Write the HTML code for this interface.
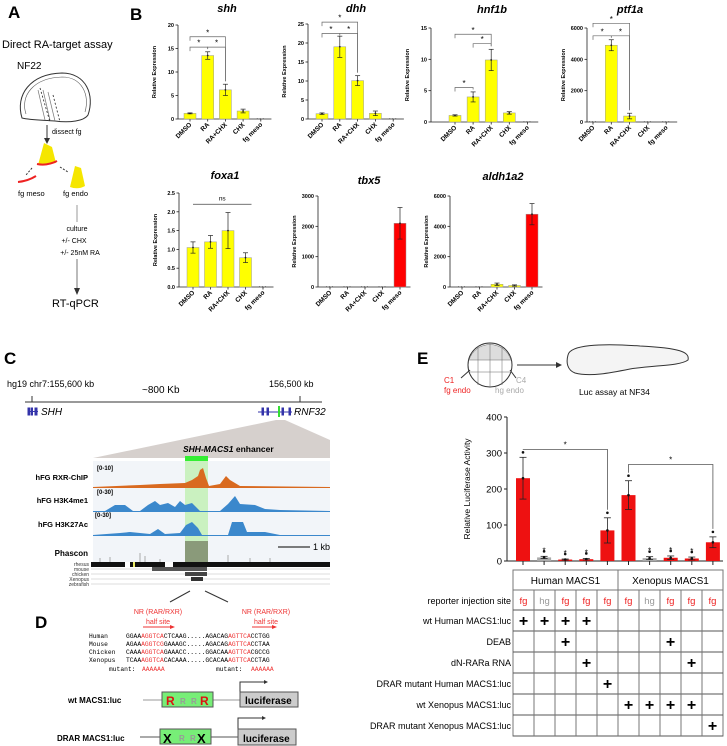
<!DOCTYPE html>
<html><head><meta charset="utf-8"><style>
body{margin:0;background:#fff;width:727px;height:746px;overflow:hidden}
svg{display:block;font-family:"Liberation Sans",Arial,sans-serif}
.mono{font-family:"Liberation Mono",monospace}
</style></head><body>
<svg id="fig" width="727" height="746" viewBox="0 0 727 746">
<!-- Panel A -->
<g>
<text x="8" y="18" font-size="17" font-weight="bold">A</text>
<text x="2" y="48" font-size="11">Direct RA-target assay</text>
<text x="17" y="69" font-size="10">NF22</text>
<path d="M22,118 C15,95 30,74 62,73 C86,73 95,95 88,115 C84,121 70,123 55,121 C40,120 30,120 22,118 Z" fill="#fff" stroke="#333" stroke-width="1"/>
<path d="M26,114 C20,96 33,78 62,77 C82,77 90,95 85,112" fill="none" stroke="#555" stroke-width="0.6"/>
<path d="M38,90 L45,120 M43,90 L50,120 M48,92 L55,121" stroke="#777" stroke-width="0.7" fill="#ccc"/>
<path d="M40,88 L50,122 M53,95 L60,122" stroke="#222" stroke-dasharray="2,2" stroke-width="0.8"/>
<line x1="47" y1="125" x2="47" y2="140" stroke="#333" stroke-width="1"/><path d="M44,138 L47,144 L50,138 Z" fill="#333"/>
<text x="52" y="134" font-size="7">dissect fg</text>
<path d="M38,165 L44,143 L52,147 L56,163 Z" fill="#f5e600"/>
<path d="M37,164 Q47,166 57,161" stroke="#e22" stroke-width="2" fill="none"/>
<path d="M32,168 L26,175" stroke="#333" stroke-dasharray="2,1.5"/><path d="M60,167 L68,172" stroke="#333" stroke-dasharray="2,1.5"/>
<path d="M18,182 Q28,181 36,176" stroke="#e22" stroke-width="2" fill="none"/>
<path d="M70,187 L75,166 L81,168 L85,186 Q78,190 70,187 Z" fill="#f5e600"/>
<text x="18" y="196" font-size="7.5">fg meso</text>
<text x="63" y="196" font-size="7.5">fg endo</text>
<line x1="77" y1="205" x2="77" y2="222" stroke="#999"/>
<text x="77" y="231" font-size="7" text-anchor="middle">culture</text>
<text x="74" y="243" font-size="7" text-anchor="middle">+/-  CHX</text>
<text x="80" y="255" font-size="7" text-anchor="middle">+/- 25nM RA</text>
<line x1="77" y1="259" x2="77" y2="290" stroke="#777"/><path d="M74,288 L77,295 L80,288 Z" fill="#333"/>
<text x="52" y="307" font-size="11">RT-qPCR</text>
</g>
<text x="130" y="20" font-size="17" font-weight="bold">B</text>
<g id="charts"></g>

<!-- Panel C -->
<g>
<text x="4" y="364" font-size="17" font-weight="bold">C</text>
<text x="7" y="387" font-size="9">hg19 chr7:155,600 kb</text>
<text x="142" y="393" font-size="10">~800 Kb</text>
<text x="269" y="387" font-size="9">156,500 kb</text>
<line x1="25" y1="402" x2="322" y2="402" stroke="#333"/>
<line x1="32" y1="396" x2="32" y2="402" stroke="#333"/><line x1="300" y1="396" x2="300" y2="402" stroke="#333"/>
<g fill="#33a" stroke="#33a"><rect x="28" y="408" width="1.5" height="7"/><rect x="31" y="408" width="1.5" height="7"/><rect x="35" y="408" width="2" height="7"/><line x1="28" y1="411.5" x2="38" y2="411.5"/></g>
<text x="41" y="415" font-size="10" font-style="italic">SHH</text>
<g stroke="#33a" fill="#33a"><line x1="258" y1="412" x2="292" y2="412"/><rect x="262" y="408" width="1.5" height="7"/><rect x="267" y="408" width="1.5" height="7"/><rect x="282" y="408" width="1.5" height="7"/><rect x="289" y="408" width="1.5" height="7"/></g>
<rect x="278" y="406" width="2" height="11" fill="#3d3"/>
<text x="294" y="415" font-size="10" font-style="italic">RNF32</text>
<path d="M276,420 L93,458 L330,458 L330,440 L285,420 Z" fill="#d6d0cd"/>
<text x="183" y="452" font-size="8.5" font-weight="bold"><tspan font-style="italic">SHH-MACS1</tspan> enhancer</text>
<rect x="185" y="456" width="23" height="5" fill="#3e3"/>
<rect x="93" y="461" width="237" height="102" fill="#f2f5f9"/>
<rect x="185" y="461" width="23" height="102" fill="#b9f0a8" opacity="0.7"/>
<text x="88" y="480" font-size="7.5" font-weight="bold" text-anchor="end">hFG RXR-ChIP</text>
<text x="97" y="470" font-size="6" font-weight="bold">[0-10]</text>
<path d="M93,487 L140,485 L160,484 L185,483 L192,480 L198,476 L200,470 L203,468 L206,478 L209,486 L220,484 L226,476 L230,480 L240,486 L330,487 L330,488 L93,488 Z" fill="#d96a20"/>
<text x="88" y="503" font-size="7.5" font-weight="bold" text-anchor="end">hFG H3K4me1</text>
<text x="97" y="494" font-size="6" font-weight="bold">[0-30]</text>
<path d="M93,511 L105,511 L115,505 L125,505 L133,511 L140,511 L148,505 L155,501 L160,505 L168,503 L175,507 L180,501 L185,505 L192,503 L200,511 L220,511 L228,504 L235,496 L240,504 L255,505 L265,509 L280,510 L330,511 L330,512 L93,512 Z" fill="#3b88cc"/>
<text x="88" y="527" font-size="7.5" font-weight="bold" text-anchor="end">hFG H3K27Ac</text>
<text x="95" y="517" font-size="6" font-weight="bold">[0-30]</text>
<path d="M93,535 L120,533 L130,532 L150,534 L158,529 L165,534 L180,533 L186,525 L192,522 L198,528 L202,535 L228,535 L232,522 L243,522 L247,532 L265,532 L280,535 L330,535 L330,536 L93,536 Z" fill="#3b88cc"/>
<text x="88" y="556" font-size="8" font-weight="bold" text-anchor="end">Phascon</text>
<rect x="185" y="541" width="23" height="21" fill="#8a9a7a"/>
<path d="M100,562 v-4 M110,562 v-5 M140,562 v-9 M145,562 v-6 M160,562 v-3 M228,562 v-7 M250,562 v-4 M270,562 v-4" stroke="#999" stroke-width="0.8"/>
<line x1="278" y1="547" x2="310" y2="547" stroke="#333" stroke-width="1.2"/>
<text x="313" y="550" font-size="9">1 kb</text>
<g font-size="5" text-anchor="end" fill="#333">
<text x="89" y="566">rhesus</text><text x="89" y="571">mouse</text><text x="89" y="576">chicken</text><text x="89" y="581">Xenopus</text><text x="89" y="586">zebrafish</text></g>
<rect x="91" y="562" width="239" height="5" fill="#111"/>
<rect x="125" y="562" width="5" height="5" fill="#fff"/><rect x="133" y="562" width="2" height="5" fill="#ee6"/><rect x="165" y="562" width="8" height="5" fill="#fff"/>
<g stroke="#bbb" stroke-width="0.5"><line x1="91" y1="569" x2="330" y2="569"/><line x1="91" y1="574" x2="330" y2="574"/><line x1="91" y1="579" x2="330" y2="579"/><line x1="91" y1="584" x2="330" y2="584"/></g>
<rect x="152" y="567" width="55" height="4" fill="#555"/><rect x="185" y="572" width="22" height="4" fill="#444"/><rect x="191" y="577" width="12" height="4" fill="#333"/>
<line x1="190" y1="591" x2="170" y2="602" stroke="#333"/><line x1="205" y1="591" x2="228" y2="602" stroke="#333"/>
</g>

<!-- Panel D -->
<g>
<text x="35" y="628" font-size="17" font-weight="bold">D</text>
<g fill="#e33" font-size="7" text-anchor="middle">
<text x="158" y="614">NR (RAR/RXR)</text><text x="158" y="624">half site</text>
<text x="266" y="614">NR (RAR/RXR)</text><text x="266" y="624">half site</text></g>
<line x1="143" y1="627" x2="172" y2="627" stroke="#e33"/><path d="M170,625 L175,627 L170,629Z" fill="#e33"/>
<line x1="252" y1="627" x2="274" y2="627" stroke="#e33"/><path d="M272,625 L277,627 L272,629Z" fill="#e33"/>
<g class="mono" font-size="6.3">
<text x="89" y="638">Human</text><text x="126" y="638">GGAA<tspan fill="#e33">AGGTCA</tspan>CTCAAG.....AGACAG<tspan fill="#e33">AGTTCA</tspan>CCTGG</text>
<text x="89" y="646">Mouse</text><text x="126" y="646">AGAA<tspan fill="#e33">AGGTCG</tspan>GAAAGC.....AGACAG<tspan fill="#e33">AGTTCA</tspan>CCTAA</text>
<text x="89" y="654">Chicken</text><text x="126" y="654">CAAA<tspan fill="#e33">AGGTCA</tspan>GAAACC.....GGACAA<tspan fill="#e33">AGTTCA</tspan>CGCCG</text>
<text x="89" y="662">Xenopus</text><text x="126" y="662">TCAA<tspan fill="#e33">AGGTCA</tspan>CACAAA.....GCACAA<tspan fill="#e33">AGTTCA</tspan>CCTAG</text>
<text x="109" y="671">mutant:</text><text x="142" y="671" fill="#e33">AAAAAA</text>
<text x="216" y="671">mutant:</text><text x="251" y="671" fill="#e33">AAAAAA</text></g>
<text x="68" y="703" font-size="8" font-weight="bold">wt MACS1:luc</text>
<line x1="143" y1="700" x2="240" y2="700" stroke="#999"/>
<rect x="162" y="692" width="51" height="15" fill="#7e7" stroke="#555"/>
<text x="166" y="705" font-size="12" font-weight="bold" fill="#d11">R</text><text x="180" y="704" font-size="8" font-weight="bold" fill="#999">R</text><text x="191" y="704" font-size="8" font-weight="bold" fill="#999">R</text><text x="200" y="705" font-size="12" font-weight="bold" fill="#d11">R</text>
<path d="M240,692 V682 H265" stroke="#333" fill="none"/><path d="M264,680 L268,682 L264,684Z" fill="#333"/>
<rect x="240" y="692" width="58" height="15" fill="#ccc" stroke="#555"/>
<text x="245" y="704" font-size="10" font-weight="bold">luciferase</text>
<text x="57" y="741" font-size="8" font-weight="bold">DRAR MACS1:luc</text>
<line x1="140" y1="737" x2="238" y2="737" stroke="#555"/>
<rect x="160" y="729" width="51" height="15" fill="#7e7" stroke="#555"/>
<text x="163" y="743" font-size="13" font-weight="bold">X</text><text x="179" y="741" font-size="8" font-weight="bold" fill="#999">R</text><text x="190" y="741" font-size="8" font-weight="bold" fill="#999">R</text><text x="197" y="743" font-size="13" font-weight="bold">X</text>
<path d="M238,729 V718 H263" stroke="#333" fill="none"/><path d="M262,716 L266,718 L262,720Z" fill="#333"/>
<rect x="238" y="729" width="58" height="16" fill="#ccc" stroke="#555"/>
<text x="243" y="742" font-size="10" font-weight="bold">luciferase</text>
</g>

<!-- Panel E -->
<g>
<text x="417" y="364" font-size="17" font-weight="bold">E</text>
<circle cx="490" cy="365" r="22" fill="#fff" stroke="#333"/>
<path d="M469,360 A22,22 0 0 1 511,360 Z" fill="#ddd" stroke="#666" stroke-width="0.5"/>
<path d="M478,346 V385 M490,343 V387 M502,346 V385 M470,372 H510" stroke="#666" stroke-width="0.5"/>
<line x1="470" y1="370" x2="461" y2="378" stroke="#333"/><line x1="510" y1="370" x2="516" y2="378" stroke="#333"/>
<text x="444" y="383" font-size="8" fill="#e22">C1</text><text x="444" y="393" font-size="8" fill="#e22">fg endo</text>
<text x="516" y="383" font-size="8" fill="#aaa">C4</text><text x="495" y="393" font-size="8" fill="#aaa">hg endo</text>
<line x1="517" y1="365" x2="558" y2="365" stroke="#333"/><path d="M556,362 L562,365 L556,368Z" fill="#333"/>
<path d="M568,355 C570,345 600,343 640,346 C680,348 690,352 688,360 C680,366 655,365 630,369 C610,373 590,377 575,373 C567,370 566,362 568,355 Z" fill="#f4f4f4" stroke="#333"/>
<text x="579" y="395" font-size="8.5">Luc assay  at NF34</text>
</g>
<g id="chartE"></g>
<g id="tableE"></g>
</svg>
<script>
// ---- Panel B data ----
const geneCats = ["DMSO","RA","RA+CHX","CHX","fg meso"];
const shhVals = [1.2, 13.5, 6.2, 1.7, 0];
const shhErr = [0.1, 0.8, 1.2, 0.4, 0];
const shhTicks = [0, 5, 10, 15, 20];
const dhhVals = [1.4, 19, 10.1, 1.5, 0];
const dhhErr = [0.2, 2.8, 1.3, 0.6, 0];
const dhhTicks = [0, 5, 10, 15, 20, 25];
const hnf1bVals = [1.05, 4.0, 9.9, 1.45, 0];
const hnf1bErr = [0.1, 0.8, 1.7, 0.2, 0];
const hnf1bTicks = [0, 5, 10, 15];
const ptf1aVals = [0, 4900, 380, 0, 0];
const ptf1aErr = [0, 350, 180, 0, 0];
const ptf1aTicks = [0, 2000, 4000, 6000];
const foxa1Vals = [1.05, 1.2, 1.5, 0.78, 0];
const foxa1Err = [0.15, 0.17, 0.48, 0.13, 0];
const foxa1Ticks = [0, 0.5, 1.0, 1.5, 2.0, 2.5];
const foxa1TickLabels = ["0.0","0.5","1.0","1.5","2.0","2.5"];
const tbx5Vals = [0, 0, 0, 0, 2100];
const tbx5Err = [0, 0, 0, 0, 520];
const tbx5Ticks = [0, 1000, 2000, 3000];
const aldhVals = [0, 0, 180, 100, 4800];
const aldhErr = [0, 0, 80, 40, 700];
const aldhTicks = [0, 2000, 4000, 6000];
// ---- Panel E data ----
const lucCats = ["H1","H2","H3","H4","H5","X1","X2","X3","X4","X5"];
const lucVals = [230, 10, 4, 5, 85, 183, 8, 9, 7, 52];
const lucErr = [58, 3, 1.5, 2, 35, 40, 4, 5, 4, 15];
const lucStars = [false, true, true, true, false, false, true, true, true, false];
const lucTicks = [0, 100, 200, 300, 400];
const injSites = ["fg","hg","fg","fg","fg","fg","hg","fg","fg","fg"];
const rowLabels = ["wt Human MACS1:luc","DEAB","dN-RARa RNA","DRAR mutant Human MACS1:luc","wt Xenopus MACS1:luc","DRAR mutant Xenopus MACS1:luc"];
const plusMatrix = [
 [1,1,1,1,0,0,0,0,0,0],
 [0,0,1,0,0,0,0,1,0,0],
 [0,0,0,1,0,0,0,0,1,0],
 [0,0,0,0,1,0,0,0,0,0],
 [0,0,0,0,0,1,1,1,1,0],
 [0,0,0,0,0,0,0,0,0,1]];

const NS = "http://www.w3.org/2000/svg";
function mk(parent, tag, attrs, txt){
  const e = document.createElementNS(NS, tag);
  for (const k in attrs) e.setAttribute(k, attrs[k]);
  if (txt !== undefined) e.textContent = txt;
  parent.appendChild(e);
  return e;
}
const charts = document.getElementById("charts");
const geneCharts = [
 {g:"shh", vals:shhVals, err:shhErr, ticks:shhTicks, max:20, ax:178, y0:119, yt:25, x0:190, dx:17.7, red:-1, tx:227, ty:12, sig:[[0,1,15.3],[1,2,15.3],[0,2,17.5]]},
 {g:"dhh", vals:dhhVals, err:dhhErr, ticks:dhhTicks, max:25, ax:308, y0:119, yt:24, x0:322, dx:17.8, red:-1, tx:356, ty:12, sig:[[0,1,22.5],[1,2,22.5],[0,2,25.5]]},
 {g:"hnf1b", vals:hnf1bVals, err:hnf1bErr, ticks:hnf1bTicks, max:15, ax:431, y0:122, yt:28, x0:455, dx:18.1, red:-1, tx:492, ty:13, sig:[[0,1,5.5],[1,2,12.5],[0,2,14]]},
 {g:"ptf1a", vals:ptf1aVals, err:ptf1aErr, ticks:ptf1aTicks, max:6000, ax:587, y0:122, yt:28, x0:593, dx:18.3, red:-1, tx:630, ty:13, sig:[[0,1,5500],[1,2,5500],[0,2,6300]]},
 {g:"foxa1", vals:foxa1Vals, err:foxa1Err, ticks:foxa1Ticks, labels:foxa1TickLabels, max:2.5, ax:179, y0:287, yt:193, x0:193, dx:17.5, red:-1, tx:225, ty:179, ns:[0,3,2.2]},
 {g:"tbx5", vals:tbx5Vals, err:tbx5Err, ticks:tbx5Ticks, max:3000, ax:318, y0:287, yt:196, x0:330, dx:17.5, red:4, tx:369, ty:184},
 {g:"aldh1a2", vals:aldhVals, err:aldhErr, ticks:aldhTicks, max:6000, ax:450, y0:287, yt:196, x0:462, dx:17.5, red:4, tx:503, ty:180}
];
geneCharts.forEach(c => {
  const g = mk(charts, "g", {});
  
  
  const ys = v => c.y0 - (v / c.max) * (c.y0 - c.yt);
  const xs = i => c.x0 + i * c.dx;
  const t = mk(g, "text", {x:c.tx, y:c.ty, "font-size":11, "font-weight":"bold", "font-style":"italic", "text-anchor":"middle"}, c.g);
  
  
  const ym = (c.y0 + c.yt) / 2;
  const yl = mk(g, "text", {x:0, y:0, transform:`translate(${c.ax-22},${ym}) rotate(-90)`, "font-size":5.5, "font-weight":"bold", "text-anchor":"middle"}, "Relative Expression");
  
  
  mk(g, "line", {x1:c.ax, y1:c.y0, x2:c.ax, y2:ys(c.max), stroke:"#222", "stroke-width":0.8});
  const xend = xs(geneCats.length - 1) + c.dx * 0.6;
  mk(g, "line", {x1:c.ax, y1:c.y0, x2:xend, y2:c.y0, stroke:"#222", "stroke-width":0.8});
  c.ticks.forEach((v, k) => {
    mk(g, "line", {x1:c.ax-2.5, y1:ys(v), x2:c.ax, y2:ys(v), stroke:"#222", "stroke-width":0.8});
    const tl = mk(g, "text", {x:c.ax-4, y:ys(v)+2, "font-size":5.5, "font-weight":"bold", "text-anchor":"end"}, c.labels ? c.labels[k] : String(v));
    
    
  });
  geneCats.forEach((cat, i) => {
    const x = xs(i), v = c.vals[i], e = c.err[i];
    mk(g, "line", {x1:x, y1:c.y0, x2:x, y2:c.y0+2.5, stroke:"#222", "stroke-width":0.8});
    const lab = mk(g, "text", {x:0, y:0, transform:`translate(${x+2},${c.y0+6}) rotate(-45)`, "font-size":6.5, "font-weight":"bold", "text-anchor":"end"}, cat);
    
    
    if (v > 0) {
      const b = mk(g, "rect", {x:x-6, y:ys(v), width:12, height:c.y0-ys(v), fill: i === c.red ? "#f00" : "#ffff00", stroke:"#999", "stroke-width":0.5});
      
      
      if (e > 0) {
        mk(g, "line", {x1:x, y1:ys(v+e), x2:x, y2:ys(Math.max(0, v-e)), stroke:"#222", "stroke-width":0.7});
        mk(g, "line", {x1:x-2.5, y1:ys(v+e), x2:x+2.5, y2:ys(v+e), stroke:"#222", "stroke-width":0.7});
        mk(g, "line", {x1:x-2.5, y1:ys(Math.max(0,v-e)), x2:x+2.5, y2:ys(Math.max(0,v-e)), stroke:"#222", "stroke-width":0.7});
      }
      mk(g, "circle", {cx:x, cy:ys(v), r:0.9, fill:"#222"});
    } else {
      mk(g, "line", {x1:x-4, y1:c.y0-0.5, x2:x+4, y2:c.y0-0.5, stroke:"#444", "stroke-width":0.6, "stroke-dasharray":"1,2"});
    }
  });
  (c.sig || []).forEach(s => {
    const x1 = xs(s[0]), x2 = xs(s[1]), y = ys(s[2]);
    const b1 = ys(c.vals[s[0]] + c.err[s[0]]) - 3, b2 = ys(c.vals[s[1]] + c.err[s[1]]) - 3;
    mk(g, "path", {d:`M${x1},${Math.min(y+4,b1)} V${y} H${x2} V${Math.max(y+2,b2)}`, fill:"none", stroke:"#666", "stroke-width":0.7});
    const st = mk(g, "text", {x:(x1+x2)/2, y:y-1.5, "font-size":8, "text-anchor":"middle"}, "*");
    
    
  });
  if (c.ns) {
    const y = ys(c.ns[2]);
    mk(g, "line", {x1:xs(c.ns[0]), y1:y, x2:xs(c.ns[1])+6, y2:y, stroke:"#444", "stroke-width":0.7});
    const nt = mk(g, "text", {x:(xs(c.ns[0])+xs(c.ns[1]))/2+3, y:y-4, "font-size":6.5, "text-anchor":"middle"}, "ns");
    
    
  }
});

// ---- Panel E chart ----
(function(){
  const g = document.getElementById("chartE");
  const ax = 507, y0 = 561, yt = 417, max = 400, x0 = 523, dx = 21.1;
  const ys = v => y0 - (v / max) * (y0 - yt);
  const xs = i => x0 + i * dx;
  mk(g, "line", {x1:ax, y1:y0, x2:ax, y2:yt, stroke:"#222"});
  mk(g, "line", {x1:ax, y1:y0, x2:723, y2:y0, stroke:"#222"});
  const yl = mk(g, "text", {x:0, y:0, transform:`translate(470,${(y0+yt)/2}) rotate(-90)`, "font-size":8.5, "text-anchor":"middle"}, "Relative Luciferase Activity");
  
  
  lucTicks.forEach(v => {
    mk(g, "line", {x1:ax-3, y1:ys(v), x2:ax, y2:ys(v), stroke:"#222"});
    const tl = mk(g, "text", {x:ax-5, y:ys(v)+3.5, "font-size":9.5, "text-anchor":"end"}, String(v));
    
    
  });
  lucCats.forEach((cat, i) => {
    const x = xs(i), v = lucVals[i], e = lucErr[i];
    mk(g, "line", {x1:x, y1:y0, x2:x, y2:y0+4, stroke:"#222"});
    const b = mk(g, "rect", {x:x-7, y:ys(v), width:14, height:y0-ys(v), fill: injSites[i] === "hg" ? "#aaa" : "#ee1111"});
    
    
    mk(g, "line", {x1:x, y1:ys(v+e), x2:x, y2:ys(Math.max(0,v-e)), stroke:"#222", "stroke-width":0.8});
    mk(g, "line", {x1:x-3.5, y1:ys(v+e), x2:x+3.5, y2:ys(v+e), stroke:"#222", "stroke-width":0.8});
    mk(g, "line", {x1:x-3.5, y1:ys(Math.max(0,v-e)), x2:x+3.5, y2:ys(Math.max(0,v-e)), stroke:"#222", "stroke-width":0.8});
    mk(g, "circle", {cx:x, cy:ys(v), r:1.3, fill:"#111"});
    mk(g, "circle", {cx:x, cy:ys(v+e)-5, r:1.3, fill:"#111"});
    if (lucStars[i]) {
      const st = mk(g, "text", {x:x, y:ys(v+e)-3, "font-size":8, "text-anchor":"middle"}, "*");
      
      
    }
  });
  [[0,4,310],[5,9,268]].forEach(s => {
    const y = ys(s[2]);
    mk(g, "path", {d:`M${xs(s[0])},${ys(lucVals[s[0]]+lucErr[s[0]])-8} V${y} H${xs(s[1])} V${ys(lucVals[s[1]]+lucErr[s[1]])-8}`, fill:"none", stroke:"#555", "stroke-width":0.8});
    const st = mk(g, "text", {x:(xs(s[0])+xs(s[1]))/2, y:y-2, "font-size":8, "text-anchor":"middle"}, "*");
    
    
  });
})();

// ---- Panel E table ----
(function(){
  const g = document.getElementById("tableE");
  const left = 513, cw = 21, top = 570, hh = 20, rowY = [590,610,631,652,673,694,715,736];
  const right = left + cw * 10;
  mk(g, "rect", {x:left, y:top, width:right-left, height:rowY[7]-top, fill:"none", stroke:"#777"});
  mk(g, "line", {x1:left+cw*5, y1:top, x2:left+cw*5, y2:rowY[0], stroke:"#777"});
  const h1 = mk(g, "text", {x:left+cw*2.5, y:top+14, "font-size":10, "text-anchor":"middle"}, "Human MACS1");
  
  
  const h2 = mk(g, "text", {x:left+cw*7.5, y:top+14, "font-size":10, "text-anchor":"middle"}, "Xenopus MACS1");
  
  
  rowY.forEach((y, k) => { if (k > 0) mk(g, "line", {x1:left, y1:y, x2:right, y2:y, stroke:"#555"}); });
  mk(g, "line", {x1:left, y1:rowY[0], x2:right, y2:rowY[0], stroke:"#777"});
  for (let j = 1; j < 10; j++) mk(g, "line", {x1:left+cw*j, y1:rowY[0], x2:left+cw*j, y2:rowY[7], stroke:"#777"});
  const rl = mk(g, "text", {x:left-2, y:rowY[0]+14, "font-size":9, "text-anchor":"end"}, "reporter injection site");
  
  
  injSites.forEach((s, j) => {
    const t = mk(g, "text", {x:left+cw*j+cw/2, y:rowY[0]+14, "font-size":9.5, "text-anchor":"middle", fill: s === "fg" ? "#e22" : "#999"}, s);
    
    
  });
  rowLabels.forEach((lab, r) => {
    const y = rowY[r+1];
    const t = mk(g, "text", {x:left-2, y:y+14, "font-size":9, "text-anchor":"end"}, lab);
    
    
    plusMatrix[r].forEach((p, j) => {
      if (p) {
        const pt = mk(g, "text", {x:left+cw*j+cw/2, y:y+16, "font-size":16, "font-weight":"bold", "text-anchor":"middle"}, "+");
        
        
      }
    });
  });
})();
</script>
</body></html>
